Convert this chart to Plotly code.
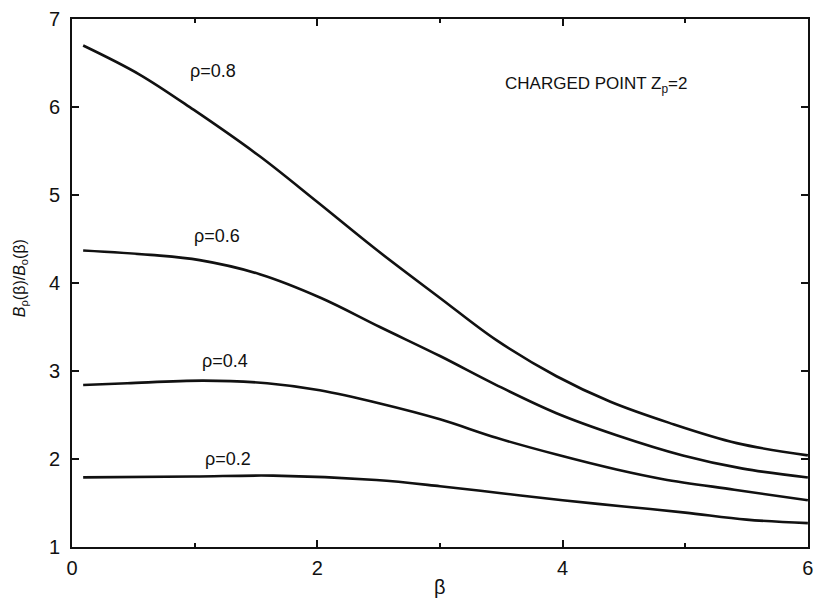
import plotly.graph_objects as go

beta_08 = [0.09, 0.55, 0.99, 1.53, 2.00, 2.48, 3.00, 3.46, 3.95, 4.39, 4.87, 5.42, 6.00]
val_08 = [6.70, 6.37, 5.97, 5.44, 4.92, 4.38, 3.83, 3.35, 2.94, 2.65, 2.41, 2.18, 2.04]

beta_06 = [0.09, 0.64, 1.04, 1.53, 2.03, 2.51, 3.00, 3.46, 3.95, 4.44, 4.98, 5.47, 6.00]
val_06 = [4.37, 4.32, 4.26, 4.10, 3.83, 3.50, 3.17, 2.84, 2.52, 2.27, 2.04, 1.89, 1.79]

beta_04 = [0.09, 0.45, 1.07, 1.59, 2.02, 2.51, 3.00, 3.46, 3.95, 4.44, 4.82, 5.40, 6.00]
val_04 = [2.84, 2.86, 2.89, 2.86, 2.78, 2.63, 2.45, 2.24, 2.05, 1.88, 1.77, 1.65, 1.53]

beta_02 = [0.09, 0.99, 1.64, 2.48, 3.00, 3.50, 4.00, 4.50, 5.00, 5.50, 6.00]
val_02 = [1.79, 1.80, 1.81, 1.76, 1.69, 1.61, 1.53, 1.46, 1.39, 1.31, 1.27]

series = [
    ("ρ=0.8", beta_08, val_08, 1.15, 6.41),
    ("ρ=0.6", beta_06, val_06, 1.18, 4.53),
    ("ρ=0.4", beta_04, val_04, 1.25, 3.11),
    ("ρ=0.2", beta_02, val_02, 1.27, 2.00),
]

x_ticks = [0, 2, 4, 6]
y_ticks = [1, 2, 3, 4, 5, 6, 7]

FONT = "Liberation Sans"
INK = "#111111"

fig = go.Figure()
for name, xs, ys, lx, ly in series:
    fig.add_trace(go.Scatter(x=xs, y=ys, mode="lines", name=name,
                             line=dict(color=INK, width=2.6, shape="spline", smoothing=1.0),
                             showlegend=False, hoverinfo="skip"))
    fig.add_annotation(x=lx, y=ly, text=name, showarrow=False,
                       font=dict(size=18, color=INK, family=FONT))

fig.add_annotation(x=5.04, y=6.25, text="CHARGED POINT Z<sub>p</sub>=2", showarrow=False,
                   xanchor="right", font=dict(size=17, color=INK, family=FONT))

fig.add_annotation(x=0.5, xref="paper", y=-0.052, yref="paper", yanchor="top",
                   text="β", showarrow=False, font=dict(size=20, color=INK, family=FONT))
fig.add_annotation(x=-0.07, xref="paper", xanchor="center", y=0.51, yref="paper",
                   text="<i>B</i><sub>ρ</sub>(β)/<i>B</i><sub>o</sub>(β)", textangle=-90,
                   showarrow=False, font=dict(size=16, color=INK, family=FONT))

axis_common = dict(showline=True, linecolor=INK, linewidth=2, mirror="ticks",
                   ticks="inside", ticklen=7, tickwidth=2, tickcolor=INK,
                   showgrid=False, zeroline=False,
                   tickfont=dict(size=20, color=INK, family=FONT))

fig.update_xaxes(range=[-0.001, 6.001], tickvals=x_ticks, ticktext=[str(v) for v in x_ticks],
                 minor=dict(tickvals=[1, 3, 5], ticks="inside", ticklen=4, tickwidth=2, tickcolor=INK),
                 ticklabelstandoff=2, automargin=False, **axis_common)
fig.update_yaxes(range=[0.999, 7.001], tickvals=y_ticks, ticktext=[str(v) for v in y_ticks],
                 ticklabelstandoff=6, automargin=False, **axis_common)

fig.update_layout(width=815, height=601, margin=dict(l=72, r=7, t=19, b=54),
                  plot_bgcolor="white", paper_bgcolor="white")

fig.write_html("out.html", config={"displayModeBar": False},
               post_script="document.body.style.margin='0px';document.body.style.overflow='hidden';")
